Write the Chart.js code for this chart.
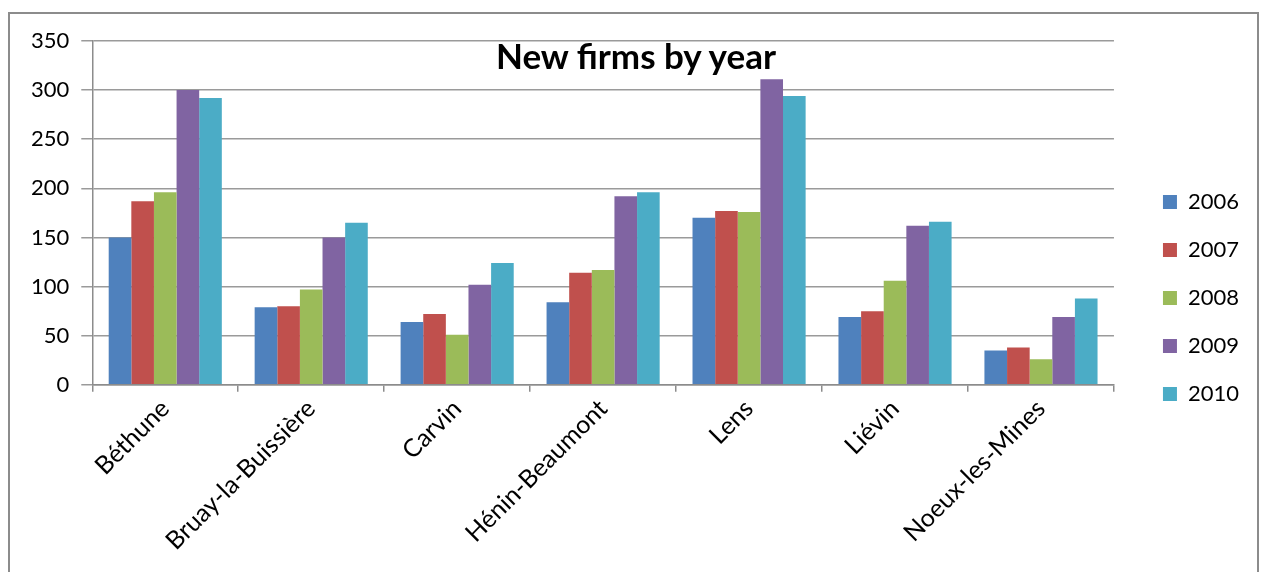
<!DOCTYPE html>
<html>
<head>
<meta charset="utf-8">
<script src="https://cdn.jsdelivr.net/npm/chart.js@4"></script>
<style>
  html, body { margin: 0; padding: 0; background: #fff; }
  #frame { position: absolute; left: 8px; top: 12px; width: 1251px; height: 572px; border: 2px solid #8c8c8c; box-sizing: border-box; background:#fff; }
  #wrap { position: absolute; left: 0; top: 0; width: 1247px; height: 558px; }
  #title { position: absolute; left: 0; width: 1266px; top: 34px; text-align: center; font-family: Lato, "Open Sans", sans-serif; font-weight: bold; font-size: 35px; color: #000; z-index: 2; pointer-events:none; }
  #title span { position: relative; left: 3px; }
</style>
</head>
<body>
<div id="title"><span>New firms by year</span></div>
<div id="frame"><div id="wrap"><canvas id="c"></canvas></div></div>
<script>
const categories = ["Béthune", "Bruay-la-Buissière", "Carvin", "Hénin-Beaumont", "Lens", "Liévin", "Noeux-les-Mines"];
const years = ["2006", "2007", "2008", "2009", "2010"];
const v2006 = [150, 79, 64, 84, 170, 69, 35];
const v2007 = [187, 80, 72, 114, 177, 75, 38];
const v2008 = [196, 97, 51, 117, 176, 106, 26];
const v2009 = [300, 150, 102, 192, 311, 162, 69];
const v2010 = [292, 165, 124, 196, 294, 166, 88];
const yTicks = [0, 50, 100, 150, 200, 250, 300, 350];
const colors = ["#4F81BD", "#C0504D", "#9BBB59", "#8064A2", "#4BACC6"];
const seriesValues = [v2006, v2007, v2008, v2009, v2010];

const GAP = 23;
const legendGap = {
  id: 'legendGap',
  afterInit(chart) {
    const lg = chart.legend;
    if (lg && !lg._patched) {
      const orig = lg.fit;
      lg.fit = function () { orig.call(this); this.width += GAP; };
      lg._patched = true;
    }
  },
  afterLayout(chart) {
    if (chart.legend) { chart.legend.left += GAP; chart.legend.top -= 3; }
  }
};

const FONT = 'Lato, "Open Sans", sans-serif';

new Chart(document.getElementById('c'), {
  type: 'bar',
  data: {
    labels: categories,
    datasets: years.map((y, i) => ({
      label: y,
      data: seriesValues[i],
      backgroundColor: colors[i],
      borderWidth: 0,
      categoryPercentage: 0.775,
      barPercentage: 1.0
    }))
  },
  plugins: [legendGap],
  options: {
    responsive: true,
    maintainAspectRatio: false,
    animation: false,
    layout: { padding: { left: 9, right: 8, top: 27, bottom: 14 } },
    plugins: {
      title: { display: false },
      tooltip: { enabled: false },
      legend: {
        position: 'right',
        labels: {
          boxWidth: 14, boxHeight: 14, padding: 26,
          color: '#000',
          font: { family: FONT, size: 22 }
        }
      }
    },
    scales: {
      x: {
        grid: { display: true, offset: true, drawOnChartArea: false, drawTicks: true, tickLength: 7, color: '#8c8c8c', lineWidth: 1.5 },
        border: { display: true, color: '#8c8c8c', width: 1.5 },
        ticks: {
          minRotation: 45, maxRotation: 45, color: '#000', padding: 2,
          font: { family: FONT, size: 25 }
        }
      },
      y: {
        min: 0, max: 350,
        afterBuildTicks(axis) { axis.ticks = yTicks.map(v => ({ value: v })); },
        grid: { color: '#9a9a9a', lineWidth: 1.5, drawTicks: true, tickLength: 11 },
        border: { display: true, color: '#8c8c8c', width: 1.5 },
        ticks: {
          color: '#000', padding: 12,
          font: { family: FONT, size: 22 }
        }
      }
    }
  }
});
</script>
</body>
</html>
